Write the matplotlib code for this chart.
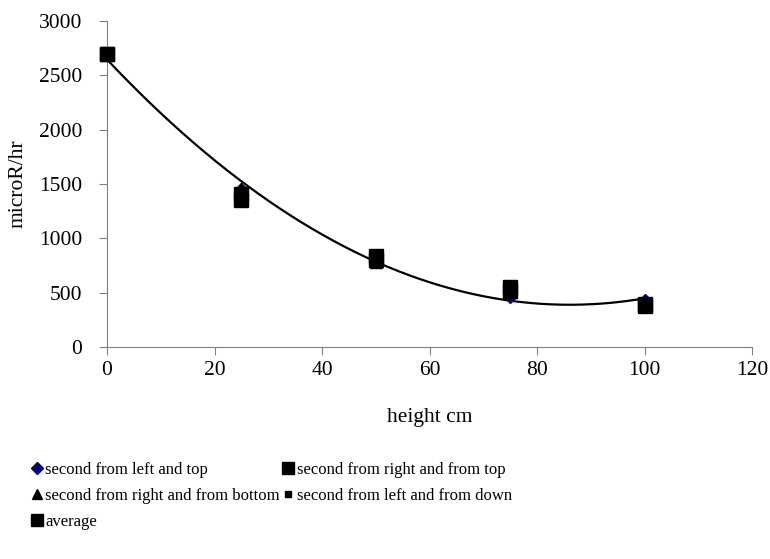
import numpy as np
import matplotlib
matplotlib.use("Agg")
import matplotlib.pyplot as plt
from matplotlib.lines import Line2D

plt.rcParams['font.family'] = ['Liberation Serif', 'DejaVu Serif']

heights = [0, 25, 50, 75, 100]
left_top = [2700, 1450, 800, 460, 430]
right_top = [2700, 1350, 840, 550, 380]
right_bottom = [2700, 1450, 780, 520, 400]
left_down = [2700, 1400, 800, 530, 390]
average = [2700, 1410, 805, 515, 400]

labels = ["second from left and top", "second from right and from top",
          "second from right and from bottom", "second from left and from down",
          "average"]

fig = plt.figure(figsize=(7.70, 5.59), dpi=100)
ax = fig.add_axes([107/770, 1-347/559, (752-107)/770, (347-21)/559])

kw = dict(linestyle='none', clip_on=False, zorder=3)
ax.plot(heights, left_top, marker='D', color='#000080', markersize=6, **kw)
ax.plot(heights, right_bottom, marker='^', color='black', markersize=8, **kw)
ax.plot(heights, left_down, marker='s', color='black', markersize=7, **kw)
ax.plot(heights, right_top, marker='s', color='black', markersize=10, **kw)
ax.plot(heights, average, marker='s', color='black', markersize=10, **kw)

coef = np.polyfit(heights, average, 2)
xs = np.linspace(0, 100, 200)
ax.plot(xs, np.polyval(coef, xs), color='black', linewidth=1.6, zorder=2)

ax.set_xlim(0, 120)
ax.set_ylim(0, 3000)
ax.set_xticks(range(0, 121, 20))
ax.set_yticks(range(0, 3001, 500))
for s in ['top', 'right']:
    ax.spines[s].set_visible(False)
for s in ['left', 'bottom']:
    ax.spines[s].set_color('#808080')
ax.tick_params(axis='both', colors='#808080', labelcolor='black', labelsize=15.5,
               length=6, direction='out')
ax.tick_params(axis='x', pad=4)
ax.tick_params(axis='y', pad=12)
ax.set_xlabel("height cm", fontsize=15.5, labelpad=20)
ax.set_ylabel("microR/hr", fontsize=15.5, labelpad=8)

lh1 = Line2D([], [], linestyle='none', marker='D', color='#000080', markersize=6)
lh2 = Line2D([], [], linestyle='none', marker='s', color='black', markersize=8)
lh3 = Line2D([], [], linestyle='none', marker='^', color='black', markersize=7)
lh4 = Line2D([], [], linestyle='none', marker='s', color='black', markersize=4.5)
lh5 = Line2D([], [], linestyle='none', marker='s', color='black', markersize=8)
fig.legend([lh1, lh3, lh5, lh2, lh4],
           [labels[0], labels[2], labels[4], labels[1], labels[3]],
           ncol=2, loc='upper left', bbox_to_anchor=(17/770, 1-447/559),
           frameon=False, fontsize=12, handlelength=0.6, handletextpad=0.2,
           columnspacing=0.2, labelspacing=0.6)

fig.savefig("out.png", dpi=100)
